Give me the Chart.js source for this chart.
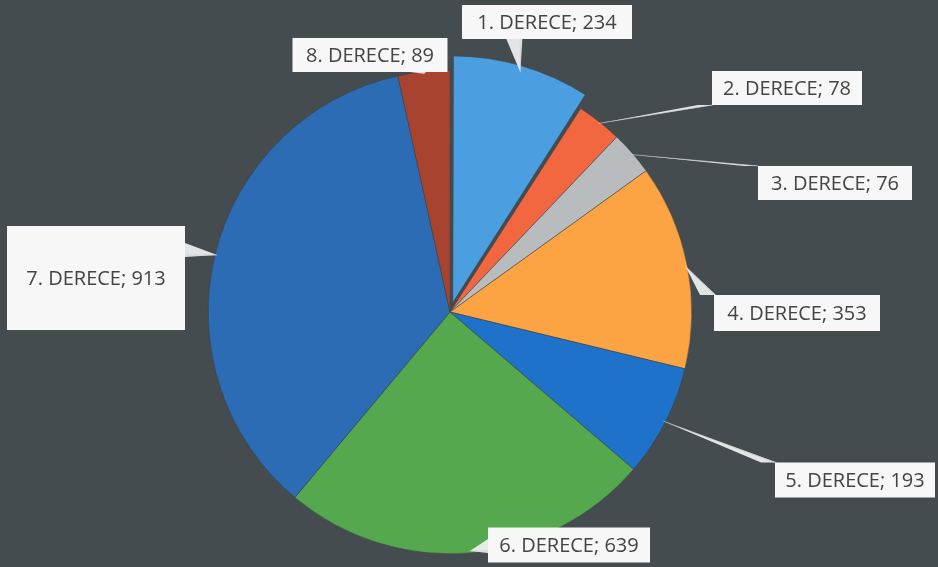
<!DOCTYPE html>
<html>
<head>
<meta charset="utf-8">
<script src="https://cdn.jsdelivr.net/npm/chart.js@4.4.1/dist/chart.umd.min.js"></script>
<style>
  html, body { margin: 0; padding: 0; background: #444c50; overflow: hidden; }
  #wrap { width: 938px; height: 567px; position: relative; overflow: hidden; }
</style>
</head>
<body>
<div id="wrap"><canvas id="myChart" width="938" height="580"></canvas></div>
<script>
var categories = ['1. DERECE', '2. DERECE', '3. DERECE', '4. DERECE', '5. DERECE', '6. DERECE', '7. DERECE', '8. DERECE']
var values = [234, 78, 76, 353, 193, 639, 913, 89]
var colors = ['#4b9ee0', '#f2673f', '#b9bcbf', '#fca444', '#1f72c9', '#55a84d', '#2c6cb4', '#a8432f']
var offsets = [40, 0, 0, 0, 0, 0, 0, 0]

// where each label box sits (center x, y) and its size
var boxPos = [[547, 22], [787, 88], [835, 183], [797, 313], [855, 480], [569, 545], [96, 278], [370, 55]]
var boxSize = [[170, 34], [150, 34], [154, 34], [166, 36], [160, 35], [162, 35], [178, 104], [155, 34]]

var calloutPlugin = {
  id: 'callouts',
  afterDatasetsDraw(chart) {
    var ctx = chart.ctx
    var meta = chart.getDatasetMeta(0)
    ctx.save()
    meta.data.forEach(function(arc, i) {
      var p = arc.getProps(['x', 'y', 'startAngle', 'endAngle', 'outerRadius'], true)
      var mid = (p.startAngle + p.endAngle) / 2
      var off = offsets[i] / 4
      var ax = p.x + Math.cos(mid) * (p.outerRadius - 2 + off)
      var ay = p.y + Math.sin(mid) * (p.outerRadius - 2 + off)
      var bx = boxPos[i][0], by = boxPos[i][1]
      var w = boxSize[i][0], h = boxSize[i][1]
      var l = bx - w / 2, t = by - h / 2

      // point on box edge nearest the anchor
      var ex = Math.max(l, Math.min(ax, l + w))
      var ey = Math.max(t, Math.min(ay, t + h))
      var horiz = (ex === l || ex === l + w) && !(ey === t || ey === t + h)
      ctx.fillStyle = 'rgba(245,245,245,0.9)'
      ctx.beginPath()
      if (horiz) {
        ctx.moveTo(ex, ey - 12)
        ctx.lineTo(ax, ay)
        ctx.lineTo(ex, ey + 2)
      } else {
        ctx.moveTo(ex - 14, ey)
        ctx.lineTo(ax, ay)
        ctx.lineTo(ex + 2, ey)
      }
      ctx.closePath()
      ctx.fill()
      ctx.strokeStyle = 'rgba(200,200,200,0.6)'
      ctx.lineWidth = 1
      ctx.beginPath()
      ctx.moveTo(ax, ay)
      ctx.lineTo(ex, ey)
      ctx.stroke()

      ctx.fillStyle = '#f7f7f7'
      ctx.fillRect(l, t, w, h)
      ctx.fillStyle = '#444'
      ctx.font = '20px "Open Sans", sans-serif'
      ctx.textAlign = 'center'
      ctx.textBaseline = 'middle'
      ctx.fillText(categories[i] + '; ' + values[i], bx, by + 1)
    })
    ctx.restore()
  }
}

const ctx = document.getElementById('myChart')
new Chart(ctx, {
  type: 'pie',
  data: {
    labels: categories,
    datasets: [{
      data: values,
      backgroundColor: colors,
      borderColor: '#3a4145',
      borderWidth: 0.5,
      offset: offsets
    }]
  },
  options: {
    responsive: false,
    animation: false,
    layout: { padding: { top: 50, bottom: 6, left: 168, right: 206 } },
    plugins: {
      legend: { display: false },
      tooltip: { enabled: false }
    }
  },
  plugins: [calloutPlugin]
})
</script>
</body>
</html>
